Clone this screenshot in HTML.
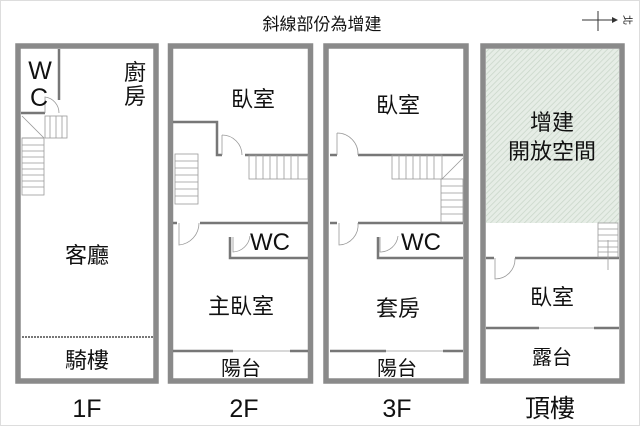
<!DOCTYPE html>
<html><head><meta charset="utf-8"><style>
html,body{margin:0;padding:0;background:#fff;}
svg{display:block;}
text{font-family:"Liberation Sans","Noto Sans CJK TC",sans-serif;fill:#111;text-anchor:middle;}
</style></head><body>
<svg width="640" height="426" viewBox="0 0 640 426" xmlns="http://www.w3.org/2000/svg">
<defs>
<pattern id="h" width="4" height="4" patternUnits="userSpaceOnUse" patternTransform="rotate(45)">
<rect width="4" height="4" fill="#e6ede6"/><line x1="0" y1="0" x2="0" y2="4" stroke="#c9d6c9" stroke-width="1.5"/>
</pattern>
</defs>
<rect x="0.5" y="0.5" width="639" height="425" fill="#fff" stroke="#ddd"/>
<text x="322" y="30" font-size="17">斜線部份為增建</text>
<line x1="582" y1="20" x2="612" y2="20" stroke="#333" stroke-width="1"/>
<line x1="598" y1="11" x2="598" y2="31" stroke="#333" stroke-width="1"/>
<polygon points="612,17 618,20 612,23" fill="#333"/>
<text x="628" y="24" font-size="10" transform="rotate(90 628 20)">北</text>

<g fill="none" stroke="#8a8a8a">
<rect x="18" y="46" width="138" height="335" stroke-width="5.5"/>
<rect x="170.5" y="46" width="140" height="335" stroke-width="5.5"/>
<rect x="326" y="46" width="140" height="335" stroke-width="5.5"/>
<rect x="483" y="46" width="139" height="335" stroke-width="5.5"/>
</g>
<rect x="486" y="49" width="133" height="174" fill="url(#h)"/>

<g stroke="#777" fill="none" stroke-width="2.5">
<line x1="59" y1="49" x2="59" y2="100"/>
<line x1="21" y1="113" x2="45" y2="113"/>
<line x1="22" y1="337" x2="153" y2="337" stroke-dasharray="2,1" stroke-width="2"/>
<polyline points="173,122 217,122 217,155 222,155"/>
<line x1="245" y1="155" x2="308" y2="155"/>
<line x1="173" y1="223" x2="177" y2="223"/>
<line x1="200" y1="223" x2="308" y2="223"/>
<polyline points="230,237 230,258 308,258"/>
<line x1="173" y1="351" x2="233" y2="351"/>
<line x1="290" y1="351" x2="308" y2="351"/>
<line x1="330" y1="155" x2="337" y2="155"/>
<line x1="358" y1="155" x2="463" y2="155"/>
<line x1="330" y1="223" x2="337" y2="223"/>
<line x1="358" y1="223" x2="463" y2="223"/>
<polyline points="378,237 378,258 463,258"/>
<line x1="330" y1="351" x2="386" y2="351"/>
<line x1="443" y1="351" x2="463" y2="351"/>
<line x1="486" y1="258" x2="494" y2="258"/>
<line x1="515" y1="258" x2="619" y2="258"/>
<line x1="486" y1="328" x2="539" y2="328"/>
<line x1="594" y1="328" x2="619" y2="328"/>
</g>
<g stroke="#999" fill="none" stroke-width="0.8">
<line x1="233" y1="351" x2="290" y2="351"/><line x1="386" y1="351" x2="443" y2="351"/><line x1="539" y1="328" x2="594" y2="328"/>
<path d="M45,113 L45,97 A16,16 0 0 1 59,113"/>
<path d="M222,135 L222,155 M222,135 A20,20 0 0 1 242,155"/>
<path d="M179,223 L179,245 A22,22 0 0 0 199,223"/>
<path d="M233,237 L233,252 A18,18 0 0 0 250,236"/>
<path d="M337,133 L337,155 M337,133 A21,21 0 0 1 358,155"/>
<path d="M339,223 L339,245 A20,20 0 0 0 358,223"/>
<path d="M380,237 L380,252 A18,18 0 0 0 398,236"/>
<path d="M495,258 L495,279 A20,20 0 0 0 515,258"/>
<rect x="22" y="138" width="22" height="57"/>
<path d="M22,145h22M22,151h22M22,157h22M22,163h22M22,169h22M22,175h22M22,181h22M22,187h22"/>
<path d="M22,116 L44,138 M22,138h22"/>
<rect x="45" y="116" width="22" height="22"/>
<path d="M50,116v22M56,116v22M62,116v22"/>
<rect x="175" y="154" width="23" height="50"/>
<path d="M175,161h23M175,168h23M175,175h23M175,182h23M175,189h23M175,196h23"/>
<rect x="249" y="155" width="59" height="24"/>
<path d="M256,155v24M263,155v24M270,155v24M277,155v24M284,155v24M291,155v24M298,155v24"/>
<rect x="392" y="155" width="50" height="24"/>
<path d="M399,155v24M406,155v24M413,155v24M420,155v24M427,155v24M434,155v24"/>
<path d="M442,179 L463,158"/>
<rect x="441" y="179" width="22" height="43"/>
<path d="M441,186h22M441,193h22M441,200h22M441,207h22M441,214h22"/>
<rect x="598" y="223" width="20" height="34"/>
<path d="M598,229h20M598,235h20M598,241h20M598,247h20M598,252h20M608,240v30"/>
</g>

<g font-size="22">
<text x="40" y="79" font-size="25">W</text>
<text x="39" y="106" font-size="25">C</text>
<text x="135" y="80">廚</text>
<text x="135" y="104">房</text>
<text x="87" y="263">客廳</text>
<text x="87" y="368">騎樓</text>
<text x="253" y="107">臥室</text>
<text x="270" y="250" font-size="24">WC</text>
<text x="241" y="314">主臥室</text>
<text x="241" y="375" font-size="20">陽台</text>
<text x="398" y="113">臥室</text>
<text x="421" y="250" font-size="24">WC</text>
<text x="398" y="316">套房</text>
<text x="397" y="375" font-size="20">陽台</text>
<text x="552" y="130">增建</text>
<text x="552" y="159">開放空間</text>
<text x="552" y="305">臥室</text>
<text x="552" y="364" font-size="20">露台</text>
</g>
<g font-size="25">
<text x="87" y="417">1F</text>
<text x="244" y="417">2F</text>
<text x="397" y="417">3F</text>
<text x="550" y="417">頂樓</text>
</g>
</svg>
</body></html>
